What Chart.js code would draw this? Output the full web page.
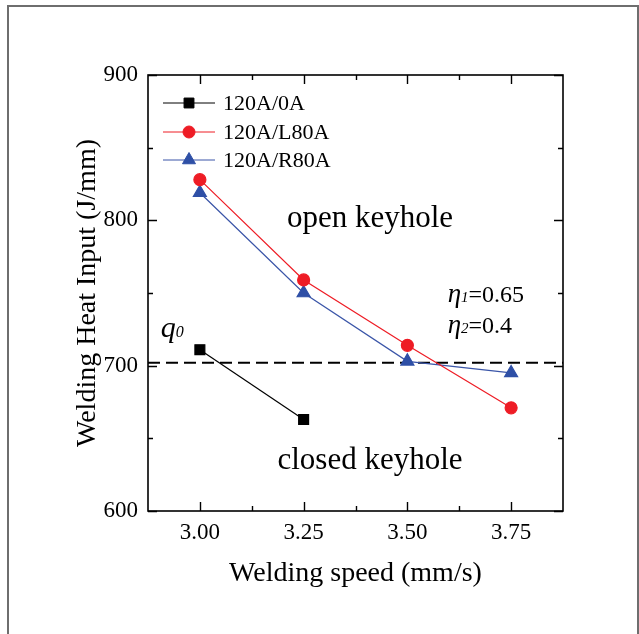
<!DOCTYPE html>
<html>
<head>
<meta charset="utf-8">
<script src="https://cdn.jsdelivr.net/npm/chart.js@4.4.0/dist/chart.umd.min.js"></script>
<style>
  html, body { margin: 0; padding: 0; background: #fff; }
  canvas { display: block; }
</style>
</head>
<body>
<canvas id="heatChart" width="639" height="634"></canvas>
<script>
const speeds = [3.00, 3.25, 3.50, 3.75];
const heat0A = [711, 663];
const heatL80A = [828, 759, 714, 671];
const heatR80A = [819, 750, 703, 695];
const q0Level = 702;
const xTicks = [3.00, 3.25, 3.50, 3.75];
const xMinorTicks = [3.125, 3.375, 3.625];
const yTicks = [600, 700, 800, 900];
const yMinorTicks = [650, 750, 850];

const SERIF = '"Liberation Serif", "Times New Roman", serif';

const toPoints = (xs, ys) => ys.map((y, i) => ({ x: xs[i], y: y }));

// text placed in data coordinates
const notes = [
  { x: 3.41, y: 795.6, parts: [{ t: 'open keyhole', f: '31px ' + SERIF }], align: 'center' },
  { x: 3.41, y: 628.9, parts: [{ t: 'closed keyhole', f: '31px ' + SERIF }], align: 'center' },
  { x: 2.906, y: 719.7, parts: [{ t: 'q', f: 'italic 30px ' + SERIF }, { t: '0', f: 'italic 16px ' + SERIF }] },
  { x: 3.597, y: 743.8, parts: [{ t: 'η', f: 'italic 27px ' + SERIF }, { t: '1', f: 'italic 15px ' + SERIF }, { t: '=0.65', f: '24px ' + SERIF }] },
  { x: 3.597, y: 722.5, parts: [{ t: 'η', f: 'italic 27px ' + SERIF }, { t: '2', f: 'italic 15px ' + SERIF }, { t: '=0.4', f: '24px ' + SERIF }] }
];

const framePlugin = {
  id: 'originFrame',
  afterDraw(chart) {
    const ctx = chart.ctx;
    const a = chart.chartArea;
    const xs = chart.scales.x, ys = chart.scales.y;
    ctx.save();

    // outer picture border
    ctx.strokeStyle = '#6e6e6e';
    ctx.lineWidth = 2;
    ctx.beginPath();
    ctx.moveTo(8, 640);
    ctx.lineTo(8, 6);
    ctx.lineTo(638, 6);
    ctx.lineTo(638, 640);
    ctx.stroke();

    // axes box
    ctx.strokeStyle = '#000';
    ctx.lineWidth = 1.6;
    ctx.strokeRect(a.left, a.top, a.right - a.left, a.bottom - a.top);

    // inward ticks on all sides
    ctx.lineWidth = 1.4;
    ctx.beginPath();
    const tickX = (v, len) => {
      const px = Math.round(xs.getPixelForValue(v)) + 0.5;
      ctx.moveTo(px, a.bottom); ctx.lineTo(px, a.bottom - len);
      ctx.moveTo(px, a.top); ctx.lineTo(px, a.top + len);
    };
    const tickY = (v, len) => {
      const py = Math.round(ys.getPixelForValue(v)) + 0.5;
      ctx.moveTo(a.left, py); ctx.lineTo(a.left + len, py);
      ctx.moveTo(a.right, py); ctx.lineTo(a.right - len, py);
    };
    xTicks.forEach(v => tickX(v, 9));
    xMinorTicks.forEach(v => tickX(v, 5));
    yTicks.forEach(v => tickY(v, 9));
    yMinorTicks.forEach(v => tickY(v, 5));
    ctx.stroke();

    // legend: line with marker in the middle
    ctx.textBaseline = 'middle';
    ctx.textAlign = 'left';
    ctx.font = '22px ' + SERIF;
    const rows = [28, 57, 85];
    chart.data.datasets.slice(0, 3).forEach((ds, i) => {
      const y = a.top + rows[i];
      const x0 = a.left + 15;
      ctx.strokeStyle = ds.borderColor;
      ctx.lineWidth = 1;
      ctx.beginPath();
      ctx.moveTo(x0, y); ctx.lineTo(x0 + 52, y);
      ctx.stroke();
      ctx.fillStyle = ds.pointBackgroundColor;
      ctx.strokeStyle = ds.pointBorderColor;
      Chart.helpers.drawPoint(ctx, { pointStyle: ds.pointStyle, radius: ds.pointRadius, rotation: 0, borderWidth: 1 }, x0 + 26, y);
      ctx.fillStyle = '#000';
      ctx.fillText(ds.label, x0 + 60, y + 1);
    });

    // annotations
    ctx.textBaseline = 'alphabetic';
    ctx.fillStyle = '#000';
    notes.forEach(n => {
      let total = 0;
      n.parts.forEach(p => { ctx.font = p.f; total += ctx.measureText(p.t).width; });
      let x = xs.getPixelForValue(n.x);
      if (n.align === 'center') x -= total / 2;
      const y = ys.getPixelForValue(n.y);
      n.parts.forEach(p => {
        ctx.font = p.f;
        ctx.textAlign = 'left';
        ctx.fillText(p.t, x, y);
        x += ctx.measureText(p.t).width;
      });
    });
    ctx.restore();
  }
};

const bgPlugin = {
  id: 'whiteBg',
  beforeDraw(chart) {
    const ctx = chart.ctx;
    ctx.save();
    ctx.fillStyle = '#fff';
    ctx.fillRect(0, 0, chart.width, chart.height);
    ctx.restore();
  }
};

new Chart(document.getElementById('heatChart'), {
  type: 'line',
  data: {
    datasets: [
      {
        label: '120A/0A',
        data: toPoints(speeds, heat0A),
        borderColor: '#000000',
        backgroundColor: '#000000',
        pointBackgroundColor: '#000000',
        pointBorderColor: '#000000',
        pointStyle: 'rect',
        pointRadius: 7,
        borderWidth: 1.2,
        tension: 0
      },
      {
        label: '120A/L80A',
        data: toPoints(speeds, heatL80A),
        borderColor: '#ee1c25',
        backgroundColor: '#ee1c25',
        pointBackgroundColor: '#ee1c25',
        pointBorderColor: '#ee1c25',
        pointStyle: 'circle',
        pointRadius: 6,
        borderWidth: 1.2,
        tension: 0
      },
      {
        label: '120A/R80A',
        data: toPoints(speeds, heatR80A),
        borderColor: '#3a55a8',
        backgroundColor: '#2e4fa6',
        pointBackgroundColor: '#2e4fa6',
        pointBorderColor: '#2e4fa6',
        pointStyle: 'triangle',
        pointRadius: 7.5,
        borderWidth: 1.2,
        tension: 0
      },
      {
        label: 'q0',
        data: [{ x: 2.875, y: q0Level }, { x: 3.875, y: q0Level }],
        borderColor: '#000000',
        borderWidth: 2,
        borderDash: [12, 6],
        pointRadius: 0,
        tension: 0
      }
    ]
  },
  options: {
    responsive: false,
    devicePixelRatio: 1,
    animation: false,
    clip: false,
    layout: { padding: { left: 0, top: 75, right: 76, bottom: 0 } },
    plugins: {
      legend: { display: false },
      tooltip: { enabled: false }
    },
    scales: {
      x: {
        type: 'linear',
        min: 2.875,
        max: 3.875,
        grid: { display: false, drawTicks: false },
        border: { display: false },
        afterBuildTicks: (scale) => { scale.ticks = xTicks.map(v => ({ value: v })); },
        afterFit: (scale) => { scale.height = 123; },
        ticks: {
          padding: 8,
          color: '#000',
          font: { family: SERIF, size: 23 },
          callback: (v) => Number(v).toFixed(2)
        },
        title: {
          display: true,
          text: 'Welding speed (mm/s)',
          color: '#000',
          font: { family: SERIF, size: 28 },
          padding: { top: 0, bottom: 44 }
        }
      },
      y: {
        min: 600,
        max: 900,
        grid: { display: false, drawTicks: false },
        border: { display: false },
        afterBuildTicks: (scale) => { scale.ticks = yTicks.map(v => ({ value: v })); },
        afterFit: (scale) => { scale.width = 148; },
        ticks: {
          padding: 10,
          color: '#000',
          font: { family: SERIF, size: 23 }
        },
        title: {
          display: true,
          text: 'Welding Heat Input (J/mm)',
          color: '#000',
          font: { family: SERIF, size: 28 },
          padding: { top: 71, bottom: 0 }
        }
      }
    }
  },
  plugins: [bgPlugin, framePlugin]
});
</script>
</body>
</html>
